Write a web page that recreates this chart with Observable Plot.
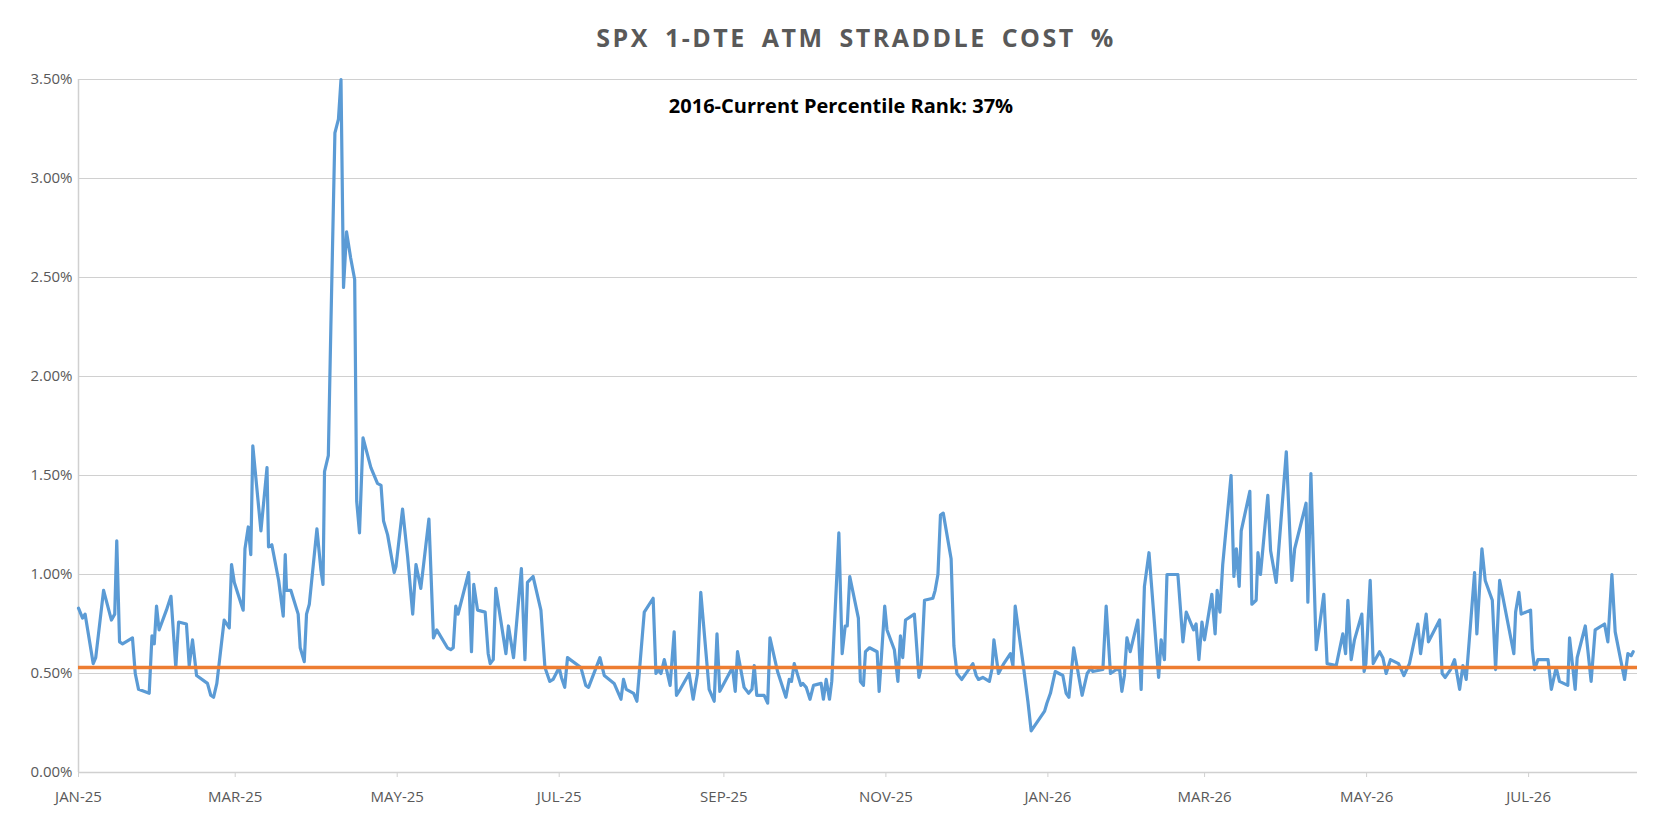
<!DOCTYPE html>
<html><head><meta charset="utf-8">
<script src="https://cdn.jsdelivr.net/npm/d3@7"></script>
<script src="https://cdn.jsdelivr.net/npm/@observablehq/plot@0.6"></script>
<style>
body{margin:0;background:#fff;font-family:"Liberation Sans Narrow","Open Sans",sans-serif;}
#wrap{position:relative;width:1662px;}
#title{height:60px;line-height:74px;text-align:center;font-size:25px;font-weight:bold;color:#595959;letter-spacing:2.5px;word-spacing:6px;padding-left:50px;}
#note{position:absolute;left:0;width:1662px;top:92px;text-align:center;font-size:20px;font-weight:bold;color:#000;padding-left:10px;z-index:2}
</style></head><body>
<div id="wrap">
<div id="title">SPX 1-DTE ATM STRADDLE COST %</div>
<div id="note">2016-Current Percentile Rank: 37%</div>
<div id="chart"></div>
</div>
<script>
// reading positions (picture units) and straddle cost in %
const pos = [0,1.6,2.6,5.8,6.8,9.9,13.0,14.3,15.1,16.2,17.4,21.3,22.4,23.7,27.9,29.0,29.9,30.8,31.8,34.7,36.5,38.4,39.5,42.6,43.7,45.0,46.6,50.9,52.2,53.3,54.6,57.5,59.5,60.4,61.5,65.0,65.7,67.0,68.0,68.8,72.0,74.4,75.0,76.3,79.0,80.8,81.6,82.1,83.8,86.7,87.5,89.1,90.0,91.1,94.1,95.7,96.5,97.1,98.6,99.6,101.2,102.6,103.6,104.6,105.8,107.4,109.0,109.8,110.9,112.3,115.4,118.0,119.4,120.4,122.0,124.6,125.3,127.9,129.9,131.9,133.2,135.1,
138.3,140.1,141.4,145.6,146.9,147.9,148.9,149.8,154.0,155.1,156.0,157.5,160.5,161.7,162.5,163.7,164.7,168.7,169.7,171.7,174.8,176.2,177.2,179.4,182.5,184.1,186.0,187.3,189.7,190.6,191.9,193.0,198.3,200.2,201.3,205.8,207.5,211.4,214.1,215.1,216.2,219.1,220.4,223.3,226.8,227.9,228.8,229.9,231.2,233.5,235.1,236.0,237.5,241.0,242.6,244.3,245.6,248.9,250.9,252.0,253.1,258.1,259.2,260.1,262.7,264.5,265.8,266.7,267.7,270.6,272.0,272.9,275.9,279.2,280.5,281.4,282.5,285.1,
285.9,287.2,288.7,290.1,293.1,294.0,295.1,296.4,297.3,300.1,301.4,302.6,303.4,304.4,307.8,308.6,309.8,310.6,312.2,315.2,316.0,318.2,319.1,322.0,323.4,324.4,325.3,326.4,329.9,331.7,332.6,333.9,337.2,338.1,339.2,340.2,341.3,344.4,345.5,346.7,348.6,353.0,354.3,355.2,356.9,359.5,360.5,361.3,363.1,365.2,367.8,368.8,369.7,373.0,374.7,376.0,381.3,382.2,383.6,385.5,388.5,389.8,390.9,392.8,396.1,398.1,399.7,400.3,404.3,405.6,407.3,409.6,410.9,411.8,412.8,413.8,415.1,418.1,419.4,420.7,422.5,426.3,427.3,428.6,429.6,433.9,435.2,
435.9,437.2,440.1,441.1,442.2,443.4,444.4,447.3,448.6,449.4,450.5,451.6,454.9,456.0,457.0,458.1,458.9,462.3,463.1,464.8,465.5,466.5,469.4,470.5,472.7,476.7,478.9,480.0,484.5,485.2,486.4,488.5,491.5,492.8,496.4,499.0,500.1,501.0,502.3,503.6,506.5,507.4,508.1,509.8,511.0,513.5,514.8,516.1,517.8,521.0,523.1,525.3,528.6,529.7,531.9,532.8,537.2,538.2,539.4,541.5,543.1,545.1,546.4,547.7,551.0,551.9,553.9,555.2,558.0,559.3,560.9,566.5,567.2,568.5,569.4,573.1,573.8,574.7,576.0,580.0,581.3,
583.2,584.5,587.8,588.5,590.7,591.5,594.7,597.0,598.6,602.3,603.6,605.2,606.5,610.2,611.5,612.8,613.6];
const cost = [0.83,0.78,0.80,0.55,0.58,0.92,0.77,0.80,1.17,0.66,0.65,0.68,0.50,0.42,0.40,0.69,0.65,0.84,0.72,0.82,0.89,0.53,0.76,0.75,0.54,0.67,0.49,0.45,0.39,0.38,0.45,0.77,0.73,1.05,0.96,0.82,1.13,1.24,1.10,1.65,1.22,1.54,1.14,1.15,0.97,0.79,1.10,0.92,0.92,0.80,0.63,0.56,0.80,0.85,1.23,1.02,0.95,1.52,1.60,2.25,3.23,3.30,3.50,2.45,2.73,2.60,2.49,1.37,1.21,1.69,1.54,1.46,1.45,1.27,1.20,1.01,1.04,1.33,1.09,0.80,1.05,0.93,
1.28,0.68,0.72,0.63,0.62,0.63,0.84,0.80,1.01,0.61,0.95,0.82,0.81,0.60,0.55,0.57,0.93,0.60,0.74,0.58,1.03,0.57,0.96,0.99,0.82,0.53,0.46,0.47,0.53,0.48,0.43,0.58,0.53,0.44,0.43,0.58,0.49,0.45,0.37,0.47,0.42,0.40,0.36,0.81,0.88,0.50,0.52,0.50,0.57,0.44,0.71,0.39,0.42,0.50,0.37,0.50,0.91,0.42,0.36,0.70,0.41,0.53,0.41,0.61,0.43,0.40,0.42,0.54,0.39,0.39,0.35,0.68,0.51,0.38,0.47,0.46,0.55,0.44,
0.45,0.43,0.37,0.44,0.45,0.37,0.47,0.37,0.46,1.21,0.60,0.74,0.74,0.99,0.78,0.46,0.44,0.61,0.63,0.61,0.41,0.84,0.72,0.62,0.46,0.69,0.58,0.77,0.80,0.48,0.53,0.87,0.88,0.92,1.00,1.30,1.31,1.08,0.64,0.50,0.47,0.55,0.49,0.47,0.48,0.46,0.52,0.67,0.50,0.55,0.60,0.54,0.84,0.53,0.36,0.21,0.31,0.35,0.40,0.51,0.49,0.40,0.38,0.63,0.39,0.50,0.53,0.51,0.52,0.84,0.50,0.52,0.52,0.41,0.49,0.68,0.61,0.77,0.42,0.94,1.11,0.48,0.67,0.57,1.00,1.00,0.78,
0.66,0.81,0.72,0.75,0.57,0.76,0.67,0.90,0.70,0.92,0.81,1.05,1.50,0.99,1.13,0.94,1.22,1.42,0.85,0.87,1.11,1.00,1.40,1.12,0.96,1.62,0.97,1.13,1.36,0.86,1.51,0.62,0.90,0.55,0.54,0.70,0.60,0.87,0.57,0.67,0.80,0.51,0.55,0.97,0.55,0.61,0.58,0.50,0.57,0.55,0.49,0.55,0.75,0.60,0.80,0.66,0.77,0.50,0.48,0.52,0.57,0.42,0.54,0.47,1.01,0.70,1.13,0.97,0.87,0.52,0.97,0.60,0.81,0.91,0.80,0.82,0.62,0.52,0.57,0.57,0.42,
0.53,0.46,0.44,0.68,0.42,0.58,0.74,0.46,0.72,0.75,0.66,1.00,0.71,0.47,0.60,0.59,0.61];
const average = 0.53;
const tickMonths = ["2025-01-01","2025-03-01","2025-05-01","2025-07-01","2025-09-01","2025-11-01","2026-01-01","2026-03-01","2026-05-01","2026-07-01"];
const yTicks = [0,0.5,1,1.5,2,2.5,3,3.5];

const start = Date.UTC(2025,0,1), DAY = 86400000;
const data = pos.map((p,i)=>({date:new Date(start + p*0.954*DAY), v:cost[i]}));
const mon = ["JAN","FEB","MAR","APR","MAY","JUN","JUL","AUG","SEP","OCT","NOV","DEC"];
const fmtX = d => mon[d.getUTCMonth()] + "-" + String(d.getUTCFullYear()).slice(2);

const chart = Plot.plot({
  width:1662, height:762,
  marginLeft:78, marginRight:25, marginTop:19, marginBottom:50,
  style:{fontFamily:"'Liberation Sans Narrow','Open Sans',sans-serif", fontSize:"15px", color:"#595959", background:"#fff"},
  x:{type:"utc", domain:[new Date(start), new Date(Date.UTC(2026,7,11))]},
  y:{domain:[0,3.5]},
  marks:[
    Plot.gridY(yTicks.slice(1),{stroke:"#d0d0d0", strokeOpacity:1, strokeWidth:1.2}),
    Plot.ruleY([0],{stroke:"#d0d0d0", strokeWidth:1.5}),
    Plot.ruleX([new Date(start)],{stroke:"#d0d0d0", strokeWidth:1.5}),
    Plot.axisY({ticks:yTicks, tickFormat:d=>d.toFixed(2)+"%", tickSize:0, tickPadding:6, fill:"#595959", label:null, fontSize:15}),
    Plot.axisX({ticks:tickMonths.map(s=>new Date(s+"T00:00:00Z")), tickFormat:fmtX, tickSize:5, stroke:"#d0d0d0", tickPadding:14, fill:"#595959", label:null, fontSize:15, style:"letter-spacing:2px"}),
    Plot.line(data,{x:"date", y:"v", stroke:"#5B9BD5", strokeWidth:3.2, strokeLinejoin:"round"}),
    Plot.ruleY([average],{stroke:"#ED7D31", strokeWidth:3.5})
  ]
});
document.getElementById("chart").appendChild(chart);
</script>
</body></html>
